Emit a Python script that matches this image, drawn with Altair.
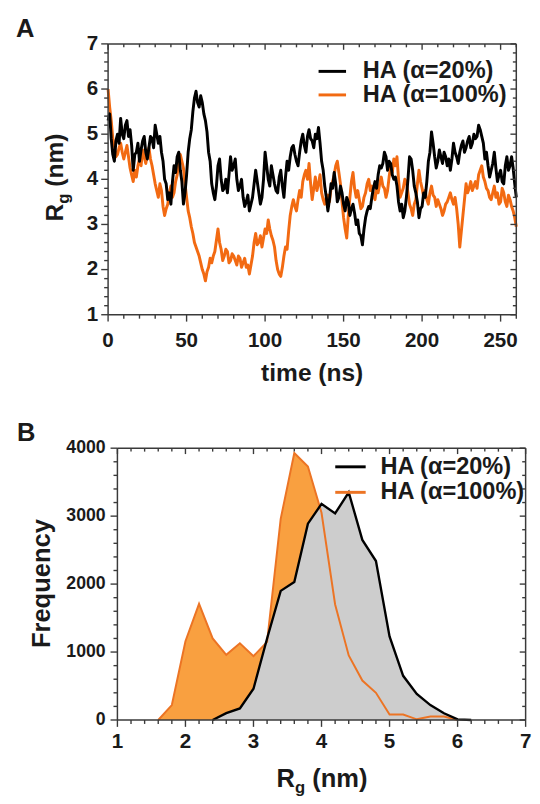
import altair as alt
import pandas as pd

FONT = "Liberation Sans"
INK = "#1a1a1a"
FRAME = "#3a3a3a"
ORANGE_A = "#F26A12"
ORANGE_FILL = "#F9A040"
ORANGE_LINE = "#EC7424"
GRAY_FILL = "#CDCDCD"

# ---------------- data ----------------
series_names = ["HA (α=20%)", "HA (α=100%)"]

time_ns = list(range(0, 261))
rg_ha20 = [
    5.3, 5.45, 4.9, 4.55, 4.4, 4.85, 5.0, 4.8, 5.35, 5.0, 4.9, 5.2, 5.3, 4.95, 5.1, 4.75, 4.2, 4.55, 4.6, 4.8,
    4.4, 4.65, 4.85, 4.95, 4.6, 4.45, 4.7, 4.95, 4.9, 4.7, 5.2, 5.0, 4.8, 4.95, 4.6, 4.4, 4.0, 3.9, 3.55, 3.7,
    3.45, 3.95, 4.3, 4.15, 4.5, 4.6, 4.2, 3.95, 3.45, 3.7, 4.1, 4.6, 4.9, 5.1, 5.5, 5.8, 5.95, 5.7, 5.6, 5.85,
    5.7, 5.45, 5.3, 5.05, 4.6, 4.4, 3.9, 3.7, 3.55, 3.85, 4.3, 4.45, 4.0, 3.75, 3.8, 4.0, 3.7, 4.1, 4.5, 4.2,
    4.3, 4.45, 4.0, 3.75, 3.85, 4.0, 3.6, 3.4, 3.5, 3.65, 3.3, 3.45, 3.6, 3.9, 4.2, 3.95, 3.7, 3.45, 3.6, 4.0,
    4.6, 4.3, 4.0, 3.85, 4.3, 4.1, 3.9, 3.75, 3.7, 4.05, 4.2, 3.85, 3.6, 4.05, 4.4, 4.2, 4.5, 4.7, 4.75, 4.55,
    4.4, 4.3, 4.6, 4.85, 5.0, 4.75, 4.6, 4.95, 5.1, 4.9, 4.85, 4.7, 5.0, 4.9, 5.15, 4.8, 4.4, 4.2, 3.85, 3.6,
    3.3, 3.55, 3.9, 3.8, 4.15, 3.9, 3.5, 3.6, 3.85, 3.7, 3.45, 3.3, 3.6, 3.5, 3.2, 3.35, 3.45, 3.25, 3.0, 3.1,
    2.8, 2.75, 2.55, 2.9, 3.15, 3.3, 3.4, 3.35, 3.6, 3.8, 3.95, 3.8, 4.1, 4.3, 4.25, 4.35, 4.6, 4.5, 4.2, 4.4,
    4.35, 4.1, 4.0, 4.05, 3.85, 3.5, 3.3, 3.45, 3.15, 3.3, 3.6, 4.0, 4.5, 4.45, 4.2, 3.85, 3.7, 3.5, 3.15, 3.35,
    3.4, 3.7, 3.6, 3.95, 4.4, 4.6, 5.05, 4.8, 4.5, 4.25, 4.4, 4.65, 4.5, 4.35, 4.6, 4.5, 4.3, 4.45, 4.2, 4.45,
    4.8, 4.6, 4.5, 4.35, 4.6, 4.75, 4.85, 4.6, 4.7, 4.85, 4.95, 4.7, 4.8, 5.0, 4.9, 4.95, 5.2, 5.1, 4.95, 4.8,
    4.45, 4.6, 4.3, 4.05, 4.2, 4.35, 4.6, 4.25, 3.95, 4.1, 4.2, 3.95, 3.9, 4.3, 4.5, 4.2, 4.3, 4.5, 4.25, 3.9,
    3.6,
]
rg_ha100 = [
    6.0, 5.6, 5.3, 4.9, 4.75, 4.5, 4.55, 4.7, 4.8, 4.6, 4.45, 4.6, 4.75, 4.5, 4.25, 4.1, 3.95, 4.2, 4.05, 4.3,
    4.45, 4.3, 4.65, 4.5, 4.35, 4.55, 4.7, 4.45, 4.3, 4.1, 3.9, 3.75, 3.6, 3.9, 3.75, 3.4, 3.2, 3.35, 3.45, 3.7,
    3.85, 3.6, 3.7, 3.95, 4.1, 4.4, 4.55, 4.4, 4.25, 3.9, 3.6, 3.3, 3.15, 2.95, 2.8, 2.6, 2.5, 2.4, 2.3, 2.15,
    2.0, 1.9, 1.75, 1.95, 2.05, 2.25, 2.15, 2.3, 2.4, 2.65, 2.9, 2.6, 2.45, 2.2, 2.3, 2.45, 2.4, 2.15, 2.2, 2.35,
    2.3, 2.2, 2.1, 2.3, 2.25, 2.05, 2.15, 2.25, 2.05, 2.1, 1.9, 2.1, 2.3, 2.6, 2.8, 2.55, 2.6, 2.75, 2.5, 2.7,
    2.9, 2.8, 3.1, 2.9, 2.75, 2.65, 2.5, 2.2, 2.0, 1.9, 1.85, 2.05, 2.3, 2.5, 2.45, 2.85, 3.2, 3.4, 3.55, 3.4,
    3.3, 3.55, 3.75, 3.6, 3.95, 4.1, 4.2, 4.0, 4.35, 3.9, 3.55, 3.8, 4.05, 3.75, 3.9, 4.1, 3.7, 3.55, 3.45, 3.6,
    3.65, 3.5, 3.8, 3.95, 4.1, 4.3, 4.4, 4.15, 3.9, 3.5, 3.15, 2.9, 2.7, 3.2, 3.6, 3.95, 4.15, 3.8, 3.6, 3.75,
    3.55, 3.35, 3.4, 3.6, 3.7, 3.9, 4.0, 3.75, 3.85, 3.65, 3.55, 3.8, 3.7, 3.9, 4.05, 3.85, 3.8, 3.6, 3.75, 4.05,
    4.3, 4.15, 4.45, 4.3, 4.5, 4.0, 3.6, 3.7, 3.8, 4.0, 3.95, 3.7, 3.45, 3.35, 3.2, 3.45, 3.55, 3.9, 4.2, 3.95,
    3.8, 3.6, 3.75, 3.55, 3.45, 3.7, 3.85, 3.65, 3.6, 3.4, 3.55, 3.45, 3.35, 3.2, 3.3, 3.45, 3.5, 3.6, 3.7, 3.55,
    3.45, 3.6, 3.35, 3.0, 2.5, 2.85, 3.2, 3.55, 3.9, 3.7, 3.8, 3.95, 3.75, 3.85, 3.95, 3.8, 4.1, 4.2, 4.3, 4.05,
    3.95, 3.8, 3.75, 3.6, 3.55, 3.7, 3.85, 3.6, 3.7, 3.45, 3.5, 3.8, 3.7, 3.5, 3.4, 3.65, 3.55, 3.4, 3.3, 3.15,
    2.95,
]

rg_bins_100 = [1.6, 1.8, 2.0, 2.2, 2.4, 2.6, 2.8, 3.0, 3.2, 3.4, 3.6, 3.8,
               4.0, 4.2, 4.4, 4.6, 4.8, 5.0, 5.2, 5.4, 5.6, 5.8, 6.0]
freq_ha100 = [0, 220, 1160, 1710, 1200, 960, 1130, 940, 1150, 2960, 3930, 3730,
              3050, 1700, 950, 580, 400, 80, 80, 10, 50, 50, 0]
rg_bins_20 = [2.4, 2.6, 2.8, 3.0, 3.2, 3.4, 3.6, 3.8, 4.0, 4.2,
              4.4, 4.6, 4.8, 5.0, 5.2, 5.4, 5.6, 5.8, 6.0, 6.2]
freq_ha20 = [0, 100, 170, 460, 1200, 1900, 2030, 2890, 3180, 3040,
             3350, 2650, 2340, 1230, 650, 385, 220, 100, 10, 0]

a_x_major = [0, 50, 100, 150, 200, 250]
a_x_minor = [v for v in range(0, 261, 10) if v % 50]
a_y_major = [1, 2, 3, 4, 5, 6, 7]
a_y_minor = [round(1 + 0.2 * i, 1) for i in range(31) if i % 5]
b_x_major = [1, 2, 3, 4, 5, 6, 7]
b_x_minor = [round(1 + 0.2 * i, 1) for i in range(31) if i % 5]
b_y_major = [0, 1000, 2000, 3000, 4000]
b_y_minor = [200 * i for i in range(21) if i % 5]


# ---------------- helpers ----------------
def ticks(vals, scale, side, length, x0, W, H):
    m = alt.Chart(pd.DataFrame({"v": vals})).mark_rule(color=FRAME, strokeWidth=1.4)
    if side == "bottom":
        return m.encode(x=alt.X("v:Q", scale=scale, axis=None), y=alt.value(H), y2=alt.value(H + length))
    if side == "top":
        return m.encode(x=alt.X("v:Q", scale=scale, axis=None), y=alt.value(0), y2=alt.value(length))
    if side == "left":
        return m.encode(y=alt.Y("v:Q", scale=scale, axis=None), x=alt.value(x0), x2=alt.value(x0 - length))
    return m.encode(y=alt.Y("v:Q", scale=scale, axis=None), x=alt.value(x0 + W), x2=alt.value(x0 + W - length))


def labels(vals, scale, side, size, off, x0, H):
    m = alt.Chart(pd.DataFrame({"v": vals})).mark_text(
        font=FONT, fontSize=size, fontWeight="bold", color=INK,
        align="center" if side == "bottom" else "right", baseline="middle")
    if side == "bottom":
        return m.encode(x=alt.X("v:Q", scale=scale, axis=None), y=alt.value(H + off),
                        text=alt.Text("v:Q", format="d"))
    return m.encode(y=alt.Y("v:Q", scale=scale, axis=None), x=alt.value(x0 - off),
                    text=alt.Text("v:Q", format="d"))


def txt(s, x, y, size, angle=0, align="left", baseline="alphabetic"):
    return alt.Chart(pd.DataFrame({"s": [s]})).mark_text(
        font=FONT, fontSize=size, fontWeight="bold", color=INK,
        align=align, baseline=baseline, angle=angle
    ).encode(x=alt.value(x), y=alt.value(y), text="s:N")


def hseg(color, x1, x2, y, w=3):
    return alt.Chart(pd.DataFrame({"k": [0]})).mark_rule(color=color, strokeWidth=w).encode(
        x=alt.value(x1), x2=alt.value(x2), y=alt.value(y))


def vseg(color, x, y1, y2, w=1.5):
    return alt.Chart(pd.DataFrame({"k": [0]})).mark_rule(color=color, strokeWidth=w).encode(
        x=alt.value(x), y=alt.value(y1), y2=alt.value(y2))


def decor(xs, ys, xmaj, xmin, ymaj, ymin, x0, W, H, xl, yl):
    return [
        hseg(FRAME, x0, x0 + W, 0, 1.5), hseg(FRAME, x0, x0 + W, H, 1.5),
        vseg(FRAME, x0, 0, H), vseg(FRAME, x0 + W, 0, H),
        ticks(xmaj, xs, "bottom", 7, x0, W, H), ticks(xmin, xs, "bottom", 4, x0, W, H),
        ticks(xmaj, xs, "top", 6, x0, W, H), ticks(xmin, xs, "top", 3.5, x0, W, H),
        ticks(ymaj, ys, "left", 7, x0, W, H), ticks(ymin, ys, "left", 4, x0, W, H),
        ticks(ymaj, ys, "right", 6, x0, W, H), ticks(ymin, ys, "right", 3.5, x0, W, H),
        labels(xmaj, xs, "bottom", xl[0], xl[1], x0, H),
        labels(ymaj, ys, "left", yl[0], yl[1], x0, H),
    ]


# ---------------- panel A ----------------
WA, HA = 416, 276
xa = alt.Scale(domain=[0, 260], nice=False, zero=False)
ya = alt.Scale(domain=[1, 7], nice=False, zero=False)

dfa20 = pd.DataFrame({"t": time_ns, "rg": rg_ha20})
dfa100 = pd.DataFrame({"t": time_ns, "rg": rg_ha100})

line100 = alt.Chart(dfa100).mark_line(color=ORANGE_A, strokeWidth=3, strokeJoin="round").encode(
    x=alt.X("t:Q", scale=xa, axis=None), y=alt.Y("rg:Q", scale=ya, axis=None))
line20 = alt.Chart(dfa20).mark_line(color="#000000", strokeWidth=3, strokeJoin="round").encode(
    x=alt.X("t:Q", scale=xa, axis=None), y=alt.Y("rg:Q", scale=ya, axis=None))

panelA = alt.layer(
    line100, line20,
    *decor(xa, ya, a_x_major, a_x_minor, a_y_major, a_y_minor, 0, WA, HA, (21, 27), (21, 10)),
    hseg("#000000", 214.5, 242.5, 28), hseg(ORANGE_A, 214.5, 242.5, 52),
    txt(series_names[0], 259.5, 28, 24, baseline="middle"),
    txt(series_names[1], 259.5, 52, 24, baseline="middle"),
    txt("A", -84.5, -15.5, 26, align="center", baseline="middle"),
    txt("time (ns)", 208, 344, 25, align="center"),
    txt("R", -45.5, 181, 25, angle=270),
    txt("g", -40, 163, 17, angle=270),
    txt("(nm)", -45.5, 145.5, 25, angle=270),
).properties(width=WA, height=HA)

# ---------------- panel B ----------------
OB = 9.5
WB, HB = 416, 277
xb = alt.Scale(domain=[1, 7], range=[OB, OB + WB], nice=False, zero=False)
yb = alt.Scale(domain=[0, 4000], nice=False)

dfb100 = pd.DataFrame({"rg": rg_bins_100, "f": freq_ha100})
dfb20 = pd.DataFrame({"rg": rg_bins_20, "f": freq_ha20})

area100 = alt.Chart(dfb100).mark_area(color=ORANGE_FILL, opacity=1).encode(
    x=alt.X("rg:Q", scale=xb, axis=None), y=alt.Y("f:Q", scale=yb, axis=None))
area20 = alt.Chart(dfb20).mark_area(color=GRAY_FILL, opacity=1).encode(
    x=alt.X("rg:Q", scale=xb, axis=None), y=alt.Y("f:Q", scale=yb, axis=None))
lineb100 = alt.Chart(dfb100).mark_line(color=ORANGE_LINE, strokeWidth=2).encode(
    x=alt.X("rg:Q", scale=xb, axis=None), y=alt.Y("f:Q", scale=yb, axis=None))
lineb20 = alt.Chart(dfb20).mark_line(color="#000000", strokeWidth=2.4).encode(
    x=alt.X("rg:Q", scale=xb, axis=None), y=alt.Y("f:Q", scale=yb, axis=None))

panelB = alt.layer(
    area100, area20, lineb100, lineb20,
    *decor(xb, yb, b_x_major, b_x_minor, b_y_major, b_y_minor, OB, WB, HB, (21, 23), (18, 12)),
    hseg("#000000", OB + 222, OB + 253, 19), hseg(ORANGE_LINE, OB + 222, OB + 253, 45),
    txt(series_names[0], OB + 268, 19, 24, baseline="middle"),
    txt(series_names[1], OB + 268, 45, 24, baseline="middle"),
    txt("B", -83.5, -15, 26, align="center", baseline="middle"),
    txt("R", OB + 162, 345, 26),
    txt("g", OB + 181, 351, 17),
    txt("(nm)", OB + 198.5, 345, 26),
    txt("Frequency", OB - 69, 138, 26, angle=270, align="center"),
).properties(width=WB + OB, height=HB)

chart = alt.vconcat(panelA, panelB, spacing=35).configure_view(
    strokeWidth=0
).properties(padding={"left": 8, "top": 0, "right": 0, "bottom": 0}, background="white")

chart.save("out.html", embed_options={"renderer": "svg", "actions": False})
